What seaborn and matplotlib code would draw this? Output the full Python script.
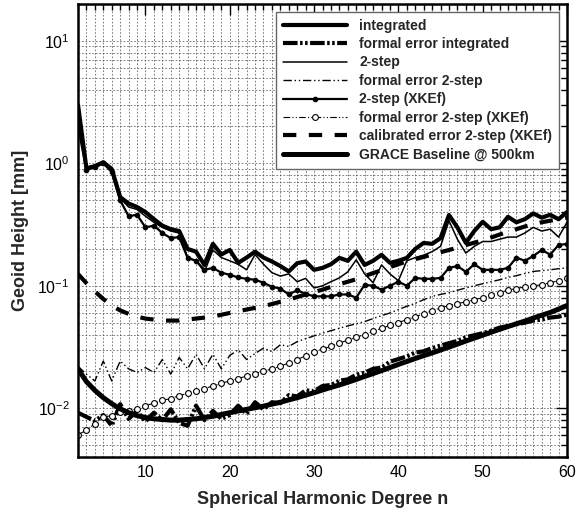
import numpy as np
import pandas as pd
import seaborn as sns
import matplotlib
matplotlib.use("Agg")
import matplotlib.pyplot as plt
from matplotlib.ticker import LogLocator, MultipleLocator, NullFormatter, FixedLocator

# ---------------- data ----------------
degree = list(range(2, 61))

integrated = [3.0, 0.91, 0.95, 1.02, 0.90, 0.53, 0.47, 0.44, 0.40, 0.35,
              0.31, 0.29, 0.28, 0.20, 0.19, 0.148, 0.22, 0.18, 0.196, 0.154,
              0.17, 0.19, 0.17, 0.158, 0.145, 0.131, 0.153, 0.158, 0.135, 0.14,
              0.15, 0.169, 0.16, 0.19, 0.148, 0.16, 0.179, 0.154, 0.16, 0.169,
              0.20, 0.224, 0.22, 0.245, 0.378, 0.30, 0.224, 0.28, 0.333, 0.29,
              0.30, 0.366, 0.33, 0.35, 0.39, 0.36, 0.38, 0.35, 0.40]

formal_integrated = [0.0092, 0.0085, 0.0079, 0.0088, 0.0072, 0.0108, 0.0082, 0.0095, 0.0078, 0.0092,
                     0.0080, 0.0098, 0.0076, 0.0072, 0.0105, 0.0080, 0.0095, 0.0082, 0.0088, 0.0105,
                     0.0090, 0.0112, 0.0098, 0.0112, 0.0110, 0.0128, 0.0125, 0.0140, 0.0138, 0.0152,
                     0.0155, 0.0168, 0.0172, 0.0188, 0.0195, 0.0210, 0.0215, 0.0240, 0.0252, 0.0265,
                     0.0285, 0.0292, 0.0310, 0.0325, 0.0340, 0.0355, 0.0380, 0.0395, 0.0410, 0.0430,
                     0.0455, 0.0470, 0.0485, 0.0500, 0.0520, 0.0530, 0.0550, 0.0560, 0.0580]

two_step = [2.6, 0.88, 0.96, 1.0, 0.88, 0.52, 0.44, 0.42, 0.37, 0.33,
            0.30, 0.28, 0.27, 0.17, 0.16, 0.13, 0.196, 0.17, 0.16, 0.15,
            0.135, 0.18, 0.15, 0.128, 0.12, 0.125, 0.108, 0.115, 0.096, 0.10,
            0.108, 0.116, 0.13, 0.163, 0.125, 0.106, 0.148, 0.125, 0.11, 0.16,
            0.17, 0.178, 0.19, 0.21, 0.34, 0.24, 0.185, 0.21, 0.23, 0.23,
            0.24, 0.25, 0.25, 0.27, 0.30, 0.28, 0.29, 0.25, 0.33]

formal_two_step = [0.022, 0.019, 0.0167, 0.0243, 0.0167, 0.0243, 0.021, 0.0196, 0.0215, 0.0196,
                   0.025, 0.019, 0.026, 0.021, 0.0276, 0.021, 0.0276, 0.021, 0.027, 0.030,
                   0.025, 0.028, 0.031, 0.029, 0.033, 0.032, 0.035, 0.037, 0.039, 0.041,
                   0.043, 0.045, 0.047, 0.049, 0.051, 0.054, 0.057, 0.060, 0.064, 0.068,
                   0.072, 0.077, 0.082, 0.085, 0.088, 0.092, 0.096, 0.100, 0.104, 0.108,
                   0.112, 0.117, 0.121, 0.126, 0.131, 0.133, 0.135, 0.138, 0.140]

two_step_xkef = [2.0, 0.88, 0.93, 1.0, 0.85, 0.50, 0.37, 0.38, 0.30, 0.31,
                 0.27, 0.245, 0.25, 0.169, 0.16, 0.135, 0.14, 0.128, 0.123, 0.117,
                 0.114, 0.112, 0.106, 0.098, 0.095, 0.085, 0.092, 0.086, 0.082, 0.082,
                 0.082, 0.085, 0.085, 0.080, 0.102, 0.100, 0.093, 0.100, 0.108, 0.100,
                 0.116, 0.114, 0.114, 0.116, 0.140, 0.145, 0.130, 0.150, 0.135, 0.135,
                 0.135, 0.140, 0.170, 0.160, 0.175, 0.196, 0.180, 0.215, 0.220]

formal_two_step_xkef = [0.0061, 0.0066, 0.0075, 0.0085, 0.0087, 0.0093, 0.0095, 0.0099, 0.0105, 0.0110,
                        0.0116, 0.0120, 0.0127, 0.0132, 0.0138, 0.0145, 0.0152, 0.0160, 0.0167, 0.0175,
                        0.0183, 0.0192, 0.0200, 0.0210, 0.0220, 0.0235, 0.0250, 0.0268, 0.0290, 0.0305,
                        0.0320, 0.0340, 0.0360, 0.0380, 0.0400, 0.0425, 0.0450, 0.0475, 0.0500, 0.0530,
                        0.0560, 0.0590, 0.0625, 0.0660, 0.0690, 0.0715, 0.0740, 0.0770, 0.0800, 0.0840,
                        0.0880, 0.0920, 0.0950, 0.0980, 0.1000, 0.1020, 0.1060, 0.1100, 0.1160]

calibrated_xkef = [0.125, 0.105, 0.090, 0.078, 0.069, 0.063, 0.059, 0.056, 0.054, 0.053,
                   0.052, 0.052, 0.052, 0.053, 0.054, 0.055, 0.056, 0.058, 0.060, 0.062,
                   0.064, 0.066, 0.068, 0.071, 0.074, 0.077, 0.081, 0.085, 0.089, 0.093,
                   0.098, 0.103, 0.108, 0.113, 0.120, 0.127, 0.134, 0.142, 0.150, 0.158,
                   0.165, 0.172, 0.180, 0.188, 0.196, 0.205, 0.215, 0.225, 0.235, 0.248,
                   0.262, 0.277, 0.290, 0.305, 0.318, 0.330, 0.340, 0.350, 0.360]

grace_baseline = [0.0210, 0.0165, 0.0140, 0.0122, 0.0109, 0.0099, 0.0092, 0.0087, 0.0084, 0.0082,
                  0.0081, 0.0080, 0.0080, 0.0081, 0.0082, 0.0084, 0.0086, 0.0089, 0.0092, 0.0095,
                  0.0098, 0.0101, 0.0104, 0.0108, 0.0112, 0.0117, 0.0122, 0.0128, 0.0134, 0.0141,
                  0.0148, 0.0155, 0.0163, 0.0172, 0.0182, 0.0192, 0.0203, 0.0215, 0.0228, 0.0241,
                  0.0255, 0.0269, 0.0283, 0.0299, 0.0316, 0.0334, 0.0354, 0.0374, 0.0395, 0.0418,
                  0.0441, 0.0465, 0.0490, 0.0515, 0.0545, 0.0575, 0.0605, 0.0645, 0.0690]

labels = ["integrated", "formal error integrated", "2-step", "formal error 2-step",
          "2-step (XKEf)", "formal error 2-step (XKEf)",
          "calibrated error 2-step (XKEf)", "GRACE Baseline @ 500km"]

x_ticks = [10, 20, 30, 40, 50, 60]

# ---------------- style ----------------
sns.set_style("white")
plt.rcParams["font.family"] = ["Liberation Sans", "DejaVu Sans"]
plt.rcParams["mathtext.fontset"] = "custom"
plt.rcParams["mathtext.rm"] = "Liberation Sans"
plt.rcParams["mathtext.default"] = "regular"

fig = plt.figure(figsize=(5.8, 5.15), dpi=100)
ax = fig.add_axes([78 / 580, 1 - 457 / 515, (567 - 78) / 580, (457 - 4) / 515])

series = [integrated, formal_integrated, two_step, formal_two_step,
          two_step_xkef, formal_two_step_xkef, calibrated_xkef, grace_baseline]

styles = [
    dict(color="black", linewidth=3.0, linestyle="-"),
    dict(color="black", linewidth=3.0, linestyle=(0, (3.5, 0.6, 0.6, 0.6, 0.6, 0.6))),
    dict(color="black", linewidth=1.1, linestyle="-"),
    dict(color="black", linewidth=1.0, linestyle=(0, (6, 2, 1, 2, 1, 2))),
    dict(color="black", linewidth=1.6, linestyle="-", marker="o", markersize=3.3,
         markerfacecolor="black", markeredgecolor="black"),
    dict(color="black", linewidth=0.8, linestyle=(0, (6, 2, 1, 2, 1, 2)), marker="o",
         markersize=4.2, markerfacecolor="white", markeredgecolor="black", markeredgewidth=0.8),
    dict(color="black", linewidth=3.0, linestyle=(0, (3.2, 3.0))),
    dict(color="black", linewidth=3.6, linestyle="-"),
]

for vals, lab, st in zip(series, labels, styles):
    df = pd.DataFrame({"n": degree, "v": vals})
    sns.lineplot(data=df, x="n", y="v", ax=ax, label=lab, sort=False,
                 estimator=None, errorbar=None, **st)

ax.set_yscale("log")
ax.set_xlim(2, 60)
ax.set_ylim(0.004, 20)

ax.xaxis.set_major_locator(FixedLocator(x_ticks))
ax.xaxis.set_minor_locator(MultipleLocator(1))
ax.yaxis.set_major_locator(LogLocator(base=10, numticks=10))
ax.yaxis.set_minor_locator(LogLocator(base=10, subs=np.arange(2, 10), numticks=20))
ax.yaxis.set_minor_formatter(NullFormatter())

ax.grid(True, which="both", color="0.3", linestyle=(0, (2.5, 2.5)), linewidth=0.5)
ax.set_axisbelow(True)

ax.tick_params(which="both", direction="in", top=True, right=True, colors="black",
               labelsize=11.5, width=1.0)
ax.tick_params(which="major", length=8, pad=6)
ax.tick_params(which="minor", length=4)
for sp in ax.spines.values():
    sp.set_linewidth(1.8)
    sp.set_color("black")

ax.set_xlabel("Spherical Harmonic Degree n", fontsize=13, fontweight="bold", labelpad=8)
ax.set_ylabel("Geoid Height [mm]", fontsize=13, fontweight="bold", labelpad=6)

leg = ax.legend(loc="upper right", prop=dict(weight="bold", size=10),
                frameon=True, fancybox=False, edgecolor="0.4", framealpha=1,
                handlelength=4.6, handletextpad=0.9, borderaxespad=0.55,
                labelspacing=0.32, borderpad=0.5)
leg.get_frame().set_linewidth(1.0)

fig.savefig("out.png", dpi=100)
